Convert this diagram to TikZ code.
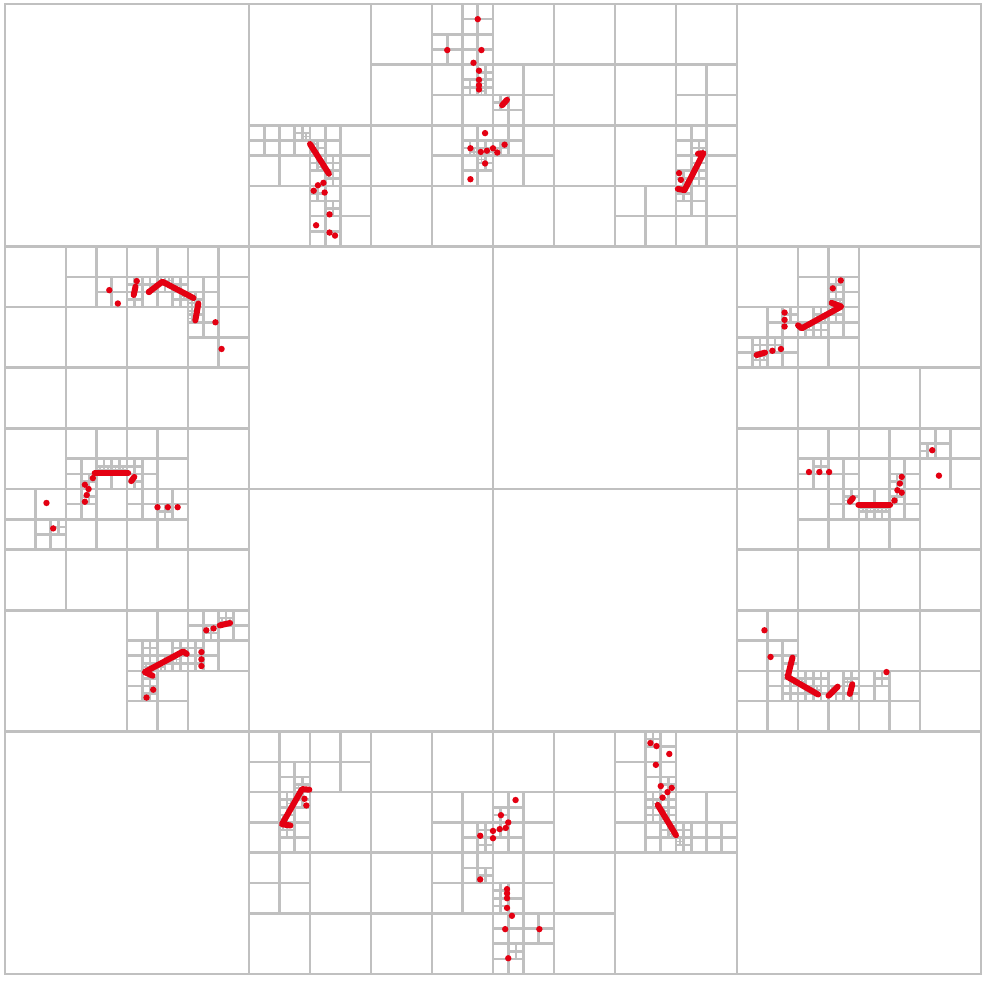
\documentclass[tikz,border=0pt]{standalone}
\definecolor{gridgray}{RGB}{192,192,192}
\definecolor{ptred}{RGB}{228,0,18}
\begin{document}
\begin{tikzpicture}[x=0.5pt,y=-0.5pt]
\useasboundingbox (0,0) rectangle (990,980);
\fill[white] (0,0) rectangle (990,980);
\begin{scope}[xshift=2.5pt,yshift=-2pt,x=30.5pt,y=-30.3125pt,
  pt/.style={fill=ptred},
  seg/.style={draw=ptred,line width=3pt,line cap=round,line join=round}]
\draw[draw=gridgray,line width=1.3pt] (0,0) rectangle (16,16);
% subdivided cells: x/y/size -> cross
\foreach \x/\y/\s in {
 0/0/16, 0/0/8, 8/0/8, 0/8/8, 8/8/8,
 4/0/4, 8/0/4, 0/4/4, 0/8/4, 12/4/4, 12/8/4, 4/12/4, 8/12/4,
 % T1
 6/0/2, 4/2/2, 6/2/2,
 7/0/1, 7/1/1, 4/2/1, 5/2/1, 5/3/1, 7/2/1,
 7.5/0/0.5, 7/0.5/0.5, 7.5/0.5/0.5, 7.5/1/0.5, 4/2/0.5, 4.5/2/0.5, 5/2/0.5, 5/2.5/0.5, 5/3/0.5, 5/3.5/0.5, 7.5/2/0.5, 7.5/2.5/0.5,
 7.75/1/0.25, 7.75/1.25/0.25, 7.5/1.25/0.25, 4.75/2/0.25, 5/2.25/0.25, 5/2.5/0.25, 5.25/2.5/0.25, 5.25/2.75/0.25, 5/3/0.25, 5.25/3.25/0.25, 7.5/2.25/0.25, 7.75/2.25/0.25, 7.75/2.5/0.25,
 4.875/2.125/0.125, 5/2.25/0.125, 5/2.375/0.125, 5.125/2.5/0.125, 5.125/2.625/0.125, 5.25/2.75/0.125, 7.75/1.25/0.125, 7.75/1.375/0.125, 7.625/2.375/0.125, 7.875/2.375/0.125, 7.75/2.5/0.125,
 % T2
 8/0/2, 10/0/2, 8/2/2, 10/2/2,
 8/1/1, 11/1/1, 8/2/1, 11/2/1, 10/3/1, 11/3/1,
 8/1.5/0.5, 8/2/0.5, 11/2/0.5, 11/2.5/0.5, 11/3/0.5,
 8/1.5/0.25, 8/2.25/0.25, 11.25/2.25/0.25, 11.25/2.5/0.25, 11.25/2.75/0.25, 11/2.75/0.25, 11/3/0.25,
 8/2.375/0.125, 11.125/2.875/0.125, 11.25/2.625/0.125, 11.375/2.375/0.125, 11/3/0.125,
 % L1
 0/4/2, 2/4/2, 0/6/2, 2/6/2,
 1/4/1, 2/4/1, 3/4/1, 3/5/1, 1/7/1, 2/7/1,
 1.5/4.5/0.5, 2/4.5/0.5, 2.5/4.5/0.5, 3/4.5/0.5, 3/5/0.5, 1/7.5/0.5, 1.5/7.5/0.5, 2/7.5/0.5,
 2/4.5/0.25, 2/4.75/0.25, 2.25/4.5/0.25, 2.5/4.5/0.25, 2.75/4.5/0.25, 2.75/4.75/0.25, 3/4.75/0.25, 3/5/0.25, 1.25/7.75/0.25, 1.5/7.5/0.25, 1.75/7.5/0.25, 2/7.5/0.25, 2/7.75/0.25,
 1.5/7.625/0.125, 1.625/7.625/0.125, 1.75/7.625/0.125, 1.875/7.625/0.125, 2.5/4.5/0.125, 2.625/4.5/0.125, 2.75/4.625/0.125, 2.875/4.75/0.125, 3/4.875/0.125, 3/5/0.125, 3/5.125/0.125,
 % L2
 0/8/2, 2/8/2, 2/10/2,
 0/8/1, 1/8/1, 2/8/1, 2/10/1, 3/10/1, 2/11/1,
 0.5/8.5/0.5, 1/8/0.5, 2/8/0.5, 2.5/8/0.5, 2/10.5/0.5, 2.5/10.5/0.5, 3/10/0.5, 3.5/10/0.5, 3/10.5/0.5, 2/11/0.5,
 0.75/8.5/0.25, 1.25/8/0.25, 2.5/8.25/0.25, 2.25/10.5/0.25, 2.25/10.75/0.25, 2.5/10.75/0.25, 2.75/10.5/0.25, 2.75/10.75/0.25, 3.25/10.25/0.25, 3.5/10/0.25, 3/10.5/0.25, 3/10.75/0.25, 2.25/11/0.25, 2.25/11.25/0.25,
 2.25/10.875/0.125, 2.375/10.875/0.125, 2.5/10.875/0.125, 2.625/10.75/0.125, 2.75/10.75/0.125, 2.875/10.625/0.125, 3.5/10.125/0.125, 3.625/10.125/0.125,
 % R1
 12/4/2, 12/6/2, 14/6/2,
 13/4/1, 12/5/1, 13/5/1, 13/7/1, 14/7/1, 15/7/1,
 13.5/4.5/0.5, 12.5/5/0.5, 12/5.5/0.5, 12.5/5.5/0.5, 13/5/0.5, 13.5/5/0.5, 13/7.5/0.5, 13.5/7.5/0.5, 15/7/0.5, 14.5/7.5/0.5,
 13.5/4.5/0.25, 13.5/4.75/0.25, 12.75/5/0.25, 12.25/5.5/0.25, 12.25/5.75/0.25, 12.5/5.5/0.25, 13/5.25/0.25, 13.25/5/0.25, 13.25/5.25/0.25, 13.5/5/0.25, 13.25/7.5/0.25, 15/7.25/0.25, 14.5/7.75/0.25,
 13/5.25/0.125, 13.125/5.25/0.125, 13.25/5.125/0.125, 13.375/5.125/0.125, 13.5/5/0.125, 13.625/4.875/0.125, 12.25/5.75/0.125, 12.375/5.75/0.125,
 % R2
 12/8/2, 14/8/2, 12/10/2, 14/10/2,
 13/8/1, 14/8/1, 12/10/1, 12/11/1, 13/11/1, 14/11/1,
 13.5/8/0.5, 14/8/0.5, 14.5/8/0.5, 12.5/10.5/0.5, 12.5/11/0.5, 13/11/0.5, 13.5/11/0.5, 14/11/0.5,
 13.75/8/0.25, 14/8.25/0.25, 14.25/8.25/0.25, 14.5/8/0.25, 12.75/10.75/0.25, 12.75/11/0.25, 12.75/11.25/0.25, 13/11/0.25, 13/11.25/0.25, 13.25/11.25/0.25, 13.25/11/0.25, 13.5/11.25/0.25, 13.75/11/0.25, 13.75/11.25/0.25, 14.25/11/0.25,
 14/8.25/0.125, 14.125/8.25/0.125, 14.25/8.25/0.125, 14.375/8.25/0.125, 13.75/8.125/0.125, 12.75/11/0.125, 12.875/11.125/0.125, 13/11.125/0.125, 13.125/11.25/0.125, 13.25/11.25/0.125, 13.5/11.25/0.125, 13.75/11.125/0.125,
 % B1
 4/12/2, 6/12/2, 4/14/2, 6/14/2,
 4/12/1, 5/12/1, 4/13/1, 7/13/1, 4/14/1, 7/14/1,
 4.5/12.5/0.5, 4.5/13/0.5, 4.5/13.5/0.5, 7.5/13.5/0.5, 7.5/14/0.5,
 4.75/12.75/0.25, 4.5/13/0.25, 4.75/13/0.25, 4.5/13.25/0.25, 4.5/13.5/0.25, 7.75/13.5/0.25, 7.75/13.75/0.25, 7.75/14.25/0.25,
 4.75/12.875/0.125, 4.625/13.125/0.125, 4.5/13.375/0.125, 4.5/13.5/0.125,
 % B2
 8/12/2, 10/12/2, 8/14/2,
 8/13/1, 10/12/1, 10/13/1, 11/13/1, 8/14/1, 8/15/1,
 8/13/0.5, 8/13.5/0.5, 10.5/12/0.5, 10.5/12.5/0.5, 10.5/13/0.5, 10.5/13.5/0.5, 11/13.5/0.5, 11.5/13.5/0.5, 8/14.5/0.5, 8/15/0.5, 8.5/15/0.5, 8/15.5/0.5,
 8/13.25/0.25, 8/13.5/0.25, 10.5/12/0.25, 10.75/12.75/0.25, 10.5/13/0.25, 10.75/13/0.25, 10.5/13.25/0.25, 10.75/13.25/0.25, 10.75/13.5/0.25, 11/13.5/0.25, 11/13.75/0.25, 8/14.5/0.25, 8/14.75/0.25, 8.25/15.5/0.25,
 10.625/13.125/0.125, 10.75/13.25/0.125, 10.75/13.375/0.125, 10.875/13.5/0.125, 10.875/13.625/0.125, 11/13.75/0.125}{
  \pgfmathsetmacro\lw{min(1.3,0.4+3.6*\s)}
  \draw[draw=gridgray,line width=\lw pt] ({\x+\s/2},\y) -- ({\x+\s/2},{\y+\s}) (\x,{\y+\s/2}) -- ({\x+\s},{\y+\s/2});
}
% points
\foreach \u/\v in {
 7.75/0.25, 7.25/0.76, 7.81/0.76, 7.68/0.97, 7.77/1.10, 7.77/1.25, 7.77/1.34, 7.77/1.41,
 7.87/2.13, 7.63/2.38, 7.80/2.44, 7.90/2.42, 8.0/2.38, 8.07/2.45, 8.19/2.32, 7.87/2.63, 7.63/2.89,
 5.13/2.99, 5.22/2.95, 5.06/3.08, 5.24/3.11, 5.32/3.47, 5.10/3.65, 5.32/3.77, 5.41/3.82,
 11.05/2.79, 11.08/2.90,
 1.71/4.72, 1.85/4.94, 2.16/4.57, 2.36/4.75, 3.45/5.25, 3.55/5.69,
 1.44/7.82, 1.31/7.93, 1.37/8.0, 1.34/8.1, 1.31/8.21, 2.50/8.30, 2.67/8.30, 2.83/8.30, 0.68/8.23, 0.79/8.65,
 3.30/10.33, 3.42/10.30, 3.22/10.69, 3.22/10.81, 3.22/10.92, 2.43/11.31, 2.32/11.44,
 13.70/4.56, 13.57/4.69, 12.78/5.09, 12.78/5.21, 12.78/5.32, 12.72/5.69, 12.58/5.72,
 13.18/7.72, 13.35/7.72, 13.51/7.72, 15.2/7.36, 15.31/7.78, 14.70/7.80, 14.67/7.91, 14.63/8.02, 14.70/8.06, 14.58/8.19,
 12.45/10.33, 12.55/10.77, 14.45/11.02,
 4.91/13.11, 4.94/13.22, 7.79/13.72, 8.0/13.64, 8.0/13.76, 7.79/14.44,
 8.37/13.13, 8.13/13.38, 8.25/13.5, 8.21/13.59, 8.11/13.61, 8.23/14.6, 8.23/14.67, 8.23/14.75, 8.23/14.91, 8.31/15.04, 8.20/15.26, 8.25/15.74, 8.76/15.26,
 10.58/12.19, 10.68/12.24, 10.89/12.37, 10.67/12.55, 10.75/12.90, 10.93/12.93, 10.86/13.0, 10.78/13.09}{
  \fill[pt] (\u,\v) circle[radius=1.6pt];
}
% dense runs of points
\draw[seg] (5.0,2.31) -- (5.31,2.80);
\draw[seg] (8.15,1.67) -- (8.23,1.58);
\draw[seg] (11.36,2.47) -- (11.45,2.46) -- (11.14,3.07) -- (11.03,3.05);
\draw[seg] (2.11,4.80) -- (2.14,4.66);
\draw[seg] (2.36,4.75) -- (2.58,4.58) -- (3.09,4.85);
\draw[seg] (3.17,4.94) -- (3.12,5.22);
\draw[seg] (1.47,7.74) -- (2.02,7.74);
\draw[seg] (2.07,7.87) -- (2.12,7.80);
\draw[seg] (3.52,10.25) -- (3.69,10.21);
\draw[seg] (2.42,11.08) -- (2.29,11.02) -- (2.92,10.68) -- (2.98,10.72);
\draw[seg] (13.0,5.30) -- (13.06,5.35) -- (13.71,4.99) -- (13.55,4.93);
\draw[seg] (12.32,5.79) -- (12.46,5.75);
\draw[seg] (13.99,8.26) -- (14.51,8.26);
\draw[seg] (13.85,8.21) -- (13.9,8.15);
\draw[seg] (12.91,10.78) -- (12.83,11.1) -- (13.33,11.39);
\draw[seg] (13.5,11.41) -- (13.65,11.26);
\draw[seg] (13.85,11.38) -- (13.89,11.22);
\draw[seg] (4.68,13.55) -- (4.54,13.53) -- (4.87,12.95) -- (4.99,12.96);
\draw[seg] (10.70,13.21) -- (11.0,13.71);
\end{scope}
\end{tikzpicture}
\end{document}
